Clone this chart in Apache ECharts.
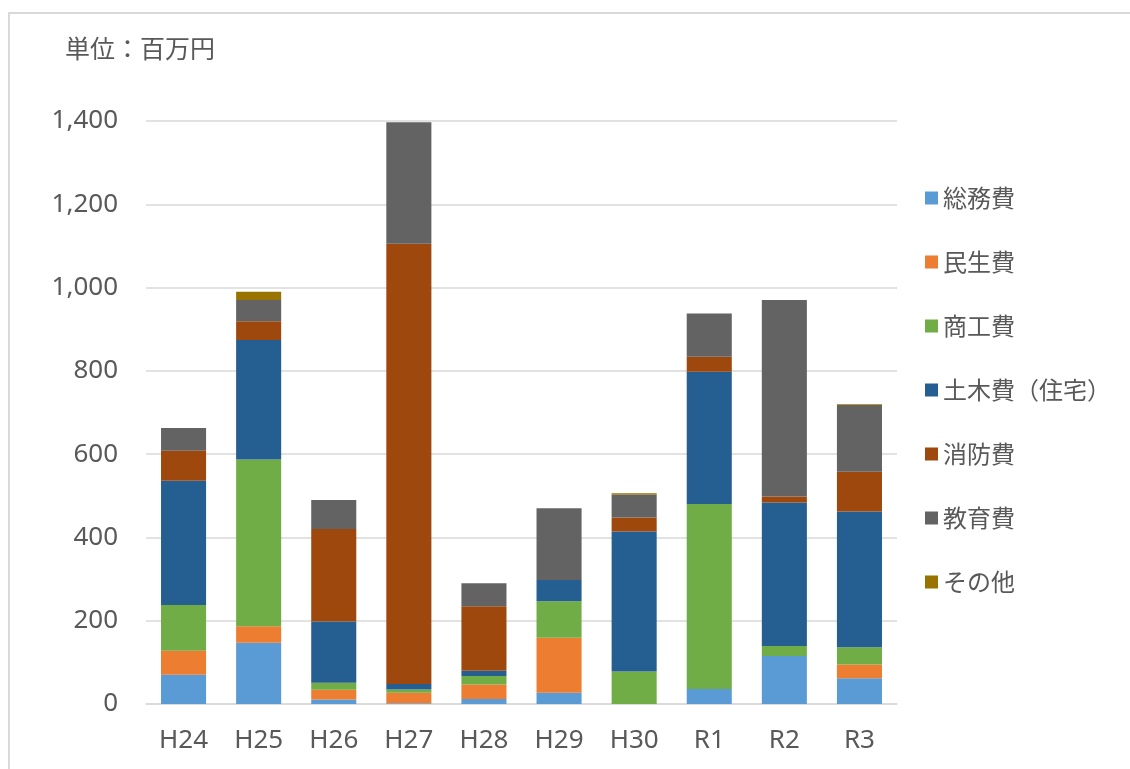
<!DOCTYPE html>
<html><head><meta charset="utf-8">
<script src="https://cdn.jsdelivr.net/npm/echarts@6/dist/echarts.min.js"></script>
<style>
html,body{margin:0;padding:0;background:#fff;overflow:hidden;}
#frame{position:absolute;left:8px;top:12px;width:1200px;height:800px;border-left:2px solid #d9d9d9;border-top:2px solid #d9d9d9;box-sizing:border-box;}
#c{position:absolute;left:0;top:0;width:1130px;height:769px;}
</style></head>
<body>
<div id="frame"></div>
<div id="c"></div>
<script>
const categories = ['H24','H25','H26','H27','H28','H29','H30','R1','R2','R3'];
const seriesNames = ['総務費','民生費','商工費','土木費（住宅）','消防費','教育費','その他'];
const somu    = [70,147,11,2,12,27,0,36,115,62];
const minsei  = [58,40,23,25,35,132,0,0,0,33];
const shoko   = [110,400,17,8,20,88,78,444,24,41];
const doboku  = [298,287,147,13,13,51,336,318,345,326];
const shobo   = [72,45,222,1057,155,0,34,36,14,96];
const kyoiku  = [55,51,70,292,55,172,55,104,472,160];
const sonota  = [0,20,0,0,0,0,3,0,0,2];
const yTicks = [0,200,400,600,800,1000,1200,1400];

const values = [somu,minsei,shoko,doboku,shobo,kyoiku,sonota];
const colors = ['#5B9BD5','#ED7D31','#70AD47','#255E91','#9E480E','#636363','#997300'];
const font = '"Noto Sans CJK JP", "Noto Sans", sans-serif';
const numFont = '"Noto Sans", "Noto Sans CJK JP", sans-serif';
const txt = '#595959';

const chart = echarts.init(document.getElementById('c'), null, {renderer:'canvas'});
chart.setOption({
  animation:false,
  textStyle:{fontFamily:font},
  title:{text:'単位：百万円', left:60, top:31, textStyle:{fontSize:25, fontWeight:'normal', color:txt, fontFamily:font}},
  grid:{left:146, right:233, top:121, bottom:65, containLabel:false},
  legend:{
    orient:'vertical', left:920, top:180, icon:'rect', itemWidth:13, itemHeight:13, itemGap:38,
    textStyle:{fontSize:24, color:txt, fontFamily:font, lineHeight:26},
    data:seriesNames
  },
  xAxis:{
    type:'category', data:categories,
    axisLine:{lineStyle:{color:'#d9d9d9', width:1.5}},
    axisTick:{show:false},
    axisLabel:{fontSize:26, color:txt, margin:24, fontFamily:numFont}
  },
  yAxis:{
    type:'value', min:yTicks[0], max:yTicks[yTicks.length-1], interval:200,
    axisLine:{show:false}, axisTick:{show:false},
    splitLine:{lineStyle:{color:'#d9d9d9', width:1.5}},
    axisLabel:{fontSize:26, color:txt, margin:28, fontFamily:numFont,
      formatter:v=>v.toLocaleString('en-US')}
  },
  series: seriesNames.map((n,i)=>({
    name:n, type:'bar', stack:'total', data:values[i], barWidth:'60%',
    itemStyle:{color:colors[i]}
  }))
});
</script>
</body></html>
